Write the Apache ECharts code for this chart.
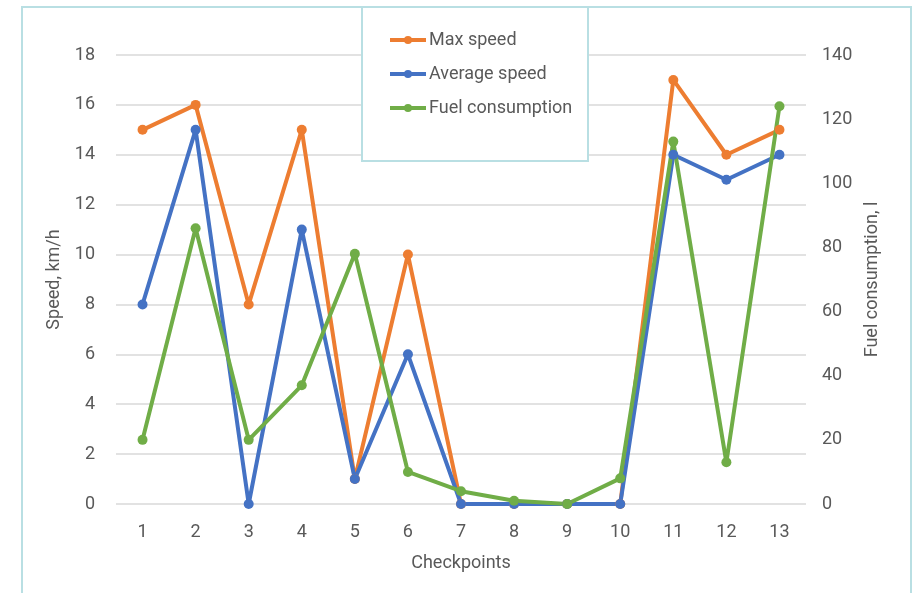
<!DOCTYPE html>
<html>
<head>
<meta charset="utf-8">
<script src="https://cdn.jsdelivr.net/npm/echarts@6/dist/echarts.min.js"></script>
<style>html,body{margin:0;padding:0;background:#fff;}#c{width:917px;height:593px;}</style>
</head>
<body>
<div id="c"></div>
<script>
var checkpoints = ['1','2','3','4','5','6','7','8','9','10','11','12','13'];
var maxSpeed = [15, 16, 8, 15, 1, 10, 0, 0, 0, 0, 17, 14, 15];
var avgSpeed = [8, 15, 0, 11, 1, 6, 0, 0, 0, 0, 14, 13, 14];
var fuel = [20, 86, 20, 37, 78, 10, 4, 1, 0, 8, 113, 13, 124];

var textColor = '#595959';
var font = 'Roboto';
var chart = echarts.init(document.getElementById('c'));
function mk(name, data, color, axis) {
  return {
    name: name, type: 'line', data: data, yAxisIndex: axis,
    symbol: 'circle', symbolSize: 10,
    lineStyle: {width: 4, color: color},
    itemStyle: {color: color},
    emphasis: {disabled: true},
    animation: false
  };
}
chart.setOption({
  animation: false,
  textStyle: {fontFamily: font},
  graphic: [
    {type: 'rect', z: 0, shape: {x: 22, y: 7, width: 889, height: 620},
     style: {fill: 'none', stroke: '#b9dfe3', lineWidth: 2}},
    {type: 'rect', z: 100, zlevel: 0, shape: {x: 362, y: 7, width: 226, height: 154},
     style: {fill: '#ffffff', stroke: '#b9dfe3', lineWidth: 2}}
  ],
  legend: {
    orient: 'vertical', left: 388, top: 31, z: 200, padding: 0,
    itemWidth: 36, itemHeight: 10, itemGap: 16,
    lineStyle: {width: 4},
    textStyle: {color: textColor, fontSize: 18, lineHeight: 18, fontFamily: font, padding: [0, 0, 0, -2]},
    data: ['Max speed', 'Average speed', 'Fuel consumption']
  },
  grid: {left: 116, right: 111, top: 55, bottom: 89},
  xAxis: {
    type: 'category', data: checkpoints, boundaryGap: true,
    name: 'Checkpoints', nameLocation: 'middle', nameGap: 50,
    nameTextStyle: {color: textColor, fontSize: 18, fontFamily: font},
    axisLine: {show: false}, axisTick: {show: false},
    axisLabel: {color: textColor, fontSize: 18, margin: 19, fontFamily: font}
  },
  yAxis: [
    {type: 'value', min: 0, max: 18, interval: 2,
     name: 'Speed, km/h', nameLocation: 'middle', nameGap: 52, nameRotate: 90,
     nameTextStyle: {color: textColor, fontSize: 18, fontFamily: font},
     axisLine: {show: false}, axisTick: {show: false},
     axisLabel: {color: textColor, fontSize: 18, margin: 21, fontFamily: font},
     splitLine: {lineStyle: {color: '#d9d9d9', width: 1.5}}},
    {type: 'value', min: 0, max: 140, interval: 20, position: 'right',
     name: 'Fuel consumption, l', nameLocation: 'middle', nameGap: 52, nameRotate: 90,
     nameTextStyle: {color: textColor, fontSize: 18, fontFamily: font},
     axisLine: {show: false}, axisTick: {show: false},
     axisLabel: {color: textColor, fontSize: 18, margin: 16, fontFamily: font},
     splitLine: {show: false}}
  ],
  series: [
    mk('Max speed', maxSpeed, '#ED7D31', 0),
    mk('Average speed', avgSpeed, '#4472C4', 0),
    mk('Fuel consumption', fuel, '#70AD47', 1)
  ]
});
</script>
</body>
</html>
